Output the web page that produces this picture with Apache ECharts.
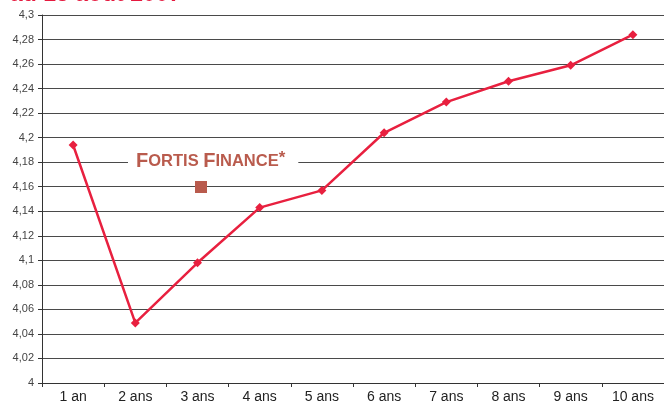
<!DOCTYPE html>
<html>
<head>
<meta charset="utf-8">
<script src="https://cdn.jsdelivr.net/npm/echarts@6/dist/echarts.min.js"></script>
<style>html,body{margin:0;padding:0;background:#fff}#c{width:664px;height:405px}</style>
</head>
<body>
<div id="c"></div>
<script>
var categories = ['1 an', '2 ans', '3 ans', '4 ans', '5 ans', '6 ans', '7 ans', '8 ans', '9 ans', '10 ans'];
var fortisValues = [4.194, 4.049, 4.098, 4.143, 4.157, 4.204, 4.229, 4.246, 4.259, 4.284];
var seriesName = 'Fortis Finance*';
var titleText = 'au 13 août 2007';

var chart = echarts.init(document.getElementById('c'), null, {renderer: 'canvas'});
chart.setOption({
  animation: false,
  backgroundColor: '#fff',
  title: {
    text: titleText,
    left: 10,
    top: -17,
    padding: 0,
    textStyle: {color: '#e5193e', fontFamily: 'Liberation Sans', fontWeight: 'bold', fontSize: 23}
  },
  grid: {left: 42, top: 15, width: 631, height: 368, containLabel: false},
  legend: [
    {
      data: [{name: seriesName, icon: 'none'}],
      left: 128,
      top: 150,
      padding: [0, 13, 0, 3],
      itemWidth: 0,
      itemGap: 0,
      selectedMode: false,
      backgroundColor: '#fff',
      formatter: function () {
        return '{a|F}{b|ORTIS }{a|F}{b|INANCE}{c|*}';
      },
      textStyle: {
        rich: {
          a: {fontFamily: 'Liberation Sans', fontWeight: 'bold', fontSize: 20, color: '#b95b4d', lineHeight: 22},
          b: {fontFamily: 'Liberation Sans', fontWeight: 'bold', fontSize: 16.5, color: '#b95b4d', lineHeight: 22},
          c: {fontFamily: 'Liberation Sans', fontWeight: 'bold', fontSize: 17, color: '#b95b4d', lineHeight: 22, verticalAlign: 'top'}
        }
      }
    },
    {
      data: [{name: seriesName, icon: 'rect', itemStyle: {color: '#b95b4d', borderWidth: 0}}],
      left: 195,
      top: 181,
      padding: 0,
      itemWidth: 12,
      itemHeight: 12,
      selectedMode: false,
      formatter: function () { return ''; },
      textStyle: {fontSize: 1}
    }
  ],
  xAxis: {
    type: 'category',
    data: categories,
    boundaryGap: true,
    axisLine: {lineStyle: {color: '#333', width: 1}},
    axisTick: {show: true, length: 4, lineStyle: {color: '#333'}},
    axisLabel: {
      color: '#222',
      fontFamily: 'Liberation Sans',
      fontSize: 14,
      margin: 7,
      interval: 0
    }
  },
  yAxis: {
    type: 'value',
    min: 4,
    max: 4.3,
    interval: 0.02,
    axisLine: {show: true, lineStyle: {color: '#333', width: 1}},
    axisTick: {show: true, length: 4, lineStyle: {color: '#333'}},
    splitLine: {show: true, lineStyle: {color: '#4a4a4a', width: 1}},
    axisLabel: {
      color: '#444',
      fontFamily: 'Liberation Sans',
      fontSize: 11,
      margin: 8,
      formatter: function (v) {
        return String(Math.round(v * 100) / 100).replace('.', ',');
      }
    }
  },
  series: [{
    name: seriesName,
    type: 'line',
    data: fortisValues,
    symbol: 'diamond',
    symbolSize: 9,
    lineStyle: {color: '#e8203f', width: 2.5},
    itemStyle: {color: '#e8203f'},
    z: 5
  }]
});
</script>
</body>
</html>
